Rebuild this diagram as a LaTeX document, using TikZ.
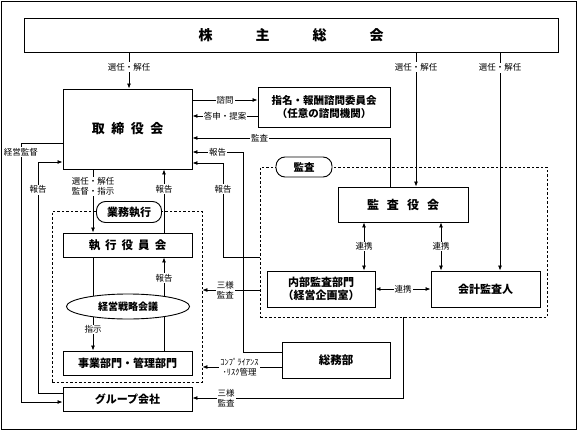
\documentclass[tikz,border=0pt]{standalone}
\usepackage{fontspec}
\setmainfont{Noto Sans CJK JP}
\usetikzlibrary{arrows.meta,shapes.geometric,backgrounds}

\begin{document}
\begin{tikzpicture}[x=1pt,y=-1pt,
  box/.style={draw,line width=0.9pt,fill=white,inner sep=0pt,align=center,font=\bfseries\fontsize{11}{13}\selectfont},
  frame/.style={draw,dash pattern=on 2.5pt off 2pt,line width=0.8pt},
  tag/.style={draw,line width=0.9pt,fill=white,rounded corners=9pt,inner sep=0pt,font=\bfseries\fontsize{11}{13}\selectfont},
  lbl/.style={fill=white,inner sep=1pt,align=center,font=\fontsize{8.5}{9.5}\selectfont},
  link/.style={line width=0.8pt},
  arr/.style={link,-{Latex[length=5pt,width=4pt]}},
  both/.style={link,{Latex[length=5pt,width=4pt]}-{Latex[length=5pt,width=4pt]}}]
  \useasboundingbox (0,0) rectangle (580,433);
  \draw[line width=0.9pt] (1.5,1.5) rectangle (576.5,429);

  \node[frame,minimum width=150pt,minimum height=171pt] (gyomu) at (127,296.5) {};
  \node[frame,minimum width=287pt,minimum height=150pt] (kgroup) at (403.5,242) {};

  \node[box,minimum width=534pt,minimum height=34pt,font=\bfseries\fontsize{14}{16}\selectfont] (share) at (291,35)
    {株\hspace{43pt}主\hspace{43pt}総\hspace{43pt}会};
  \node[box,minimum width=129pt,minimum height=80pt,font=\bfseries\fontsize{13}{15}\selectfont] (board) at (127.5,129)
    {取\hspace{6.5pt}締\hspace{6.5pt}役\hspace{6.5pt}会};
  \node[box,minimum width=132pt,minimum height=40pt,font=\bfseries\fontsize{10.5}{13}\selectfont] (nom) at (324,107)
    {指名・報酬諮問委員会\\（任意の諮問機関）};
  \node[box,minimum width=130pt,minimum height=35pt,font=\bfseries\fontsize{12}{14}\selectfont] (kyaku) at (403,204.5)
    {監\hspace{8pt}査\hspace{8pt}役\hspace{8pt}会};
  \node[box,minimum width=108pt,minimum height=36pt] (naibu) at (321,289) {内部監査部門\\（経営企画室）};
  \node[box,minimum width=109pt,minimum height=36pt] (kaikei) at (485.5,289) {会計監査人};
  \node[box,minimum width=108pt,minimum height=36pt,font=\bfseries\fontsize{11.5}{13}\selectfont] (somu) at (336,360) {総務部};
  \node[box,minimum width=129pt,minimum height=24pt,font=\bfseries\fontsize{11.5}{13}\selectfont] (exec) at (127.5,245)
    {執\hspace{5pt}行\hspace{5pt}役\hspace{5pt}員\hspace{5pt}会};
  \node[box,ellipse,minimum width=123pt,minimum height=25pt,font=\bfseries\fontsize{10}{12}\selectfont] (ell) at (128,306.5) {経営戦略会議};
  \node[box,minimum width=129pt,minimum height=24pt] (jigyo) at (127.5,363) {事業部門・管理部門};
  \node[box,minimum width=129pt,minimum height=24pt] (group) at (127.5,399) {グループ会社};
  \node[tag,minimum width=65pt,minimum height=21pt] (tgyomu) at (129,212) {業務執行};
  \node[tag,minimum width=56pt,minimum height=20pt,font=\bfseries\fontsize{10.5}{12}\selectfont] (tkansa) at (304,167) {監査};

  \draw[arr] (share.south -| 129,0) -- node[lbl,pos=0.4]{選任・解任} (board.north -| 129,0);
  \draw[arr] (share.south -| 416,0) -- node[lbl,pos=0.11]{選任・解任} (kyaku.north -| 416,0);
  \draw[arr] (share.south -| 500,0) -- node[lbl,pos=0.07]{選任・解任} (kaikei.north -| 500,0);
  \draw[arr] (board.east |- 0,100) -- node[lbl]{諮問} (nom.west |- 0,100);
  \draw[arr] (nom.west |- 0,116) -- node[lbl]{答申・提案} (board.east |- 0,116);
  \draw[arr] (kyaku.north -| 390,0) |- node[lbl,pos=0.83]{監査} (board.east |- 0,138);
  \draw[arr] (somu.west |- 0,352) -| (243,152) -- node[lbl]{報告} (board.east |- 0,152);
  \draw[arr] (kgroup.west |- 0,257) -- (223,257) -- node[lbl,pos=0.72]{報告} (223,163) -- (board.east |- 0,163);
  \draw[arr] (kgroup.west |- 0,290) -- node[lbl,pos=0.6]{三様\\監査} (gyomu.east |- 0,290);
  \draw[arr] (somu.west |- 0,367) -- node[lbl,pos=0.53]{ｺﾝﾌﾟﾗｲｱﾝｽ\\･ﾘｽｸ管理} (gyomu.east |- 0,367);
  \draw[arr] (kgroup.south -| 403,0) |- node[lbl,pos=0.92]{三様\\監査} (group.east |- 0,398);
  \draw[both] (kyaku.south -| 364,0) -- node[lbl]{連携} (naibu.north -| 364,0);
  \draw[both] (kyaku.south -| 441,0) -- node[lbl]{連携} (kaikei.north -| 441,0);
  \draw[both] (naibu.east) -- node[lbl]{連携} (kaikei.west);
  \draw[arr] (board.south -| 93,0) -- node[lbl,pos=0.27]{選任・解任\\監督・指示} (exec.north -| 93,0);
  \draw[arr] (exec.north -| 164,0) -- node[lbl,pos=0.69]{報告} (board.south -| 164,0);
  \draw[arr] (board.west |- 0,143) -| node[lbl,pos=0.517]{経営監督} (21,402) -- (group.west |- 0,402);
  \draw[arr] (group.west |- 0,393) -| node[lbl,pos=0.94]{報告} (38,162) -- (board.west |- 0,162);
  \begin{pgfonlayer}{background}
    \draw[link] (exec.south -| 93,0) -- (ell.center -| 93,0);
    \draw[arr] (ell.center -| 93,0) -- node[lbl,pos=0.52]{指示} (jigyo.north -| 93,0);
    \draw[arr] (jigyo.north -| 164,0) -- node[lbl,pos=0.78]{報告} (exec.south -| 164,0);
  \end{pgfonlayer}
\end{tikzpicture}
\end{document}
